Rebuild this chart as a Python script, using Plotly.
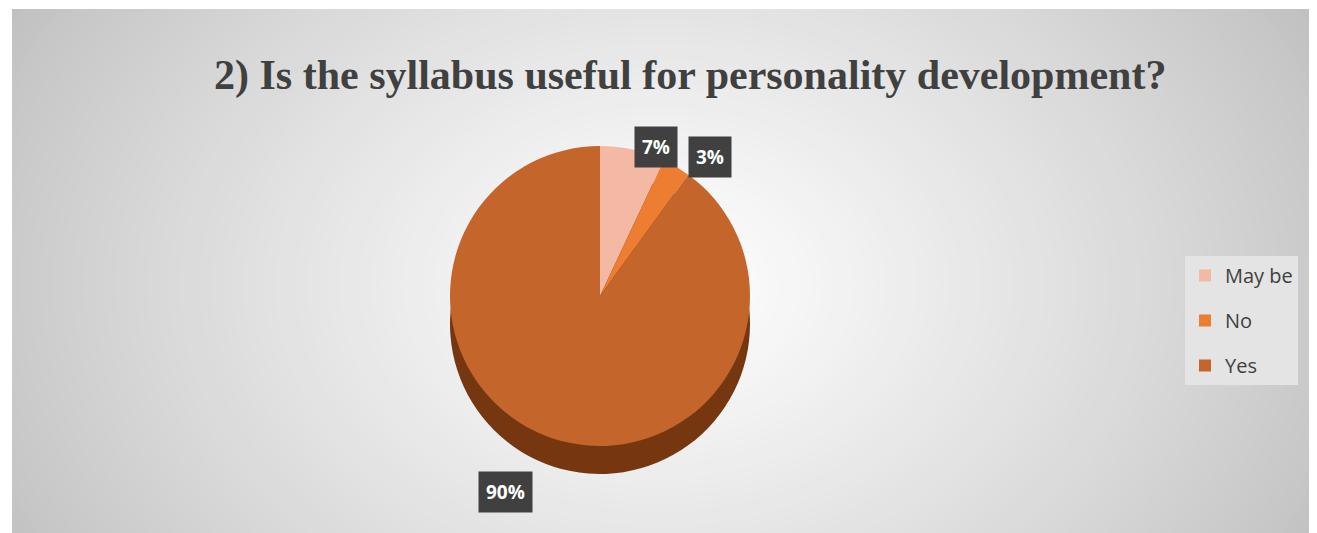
import plotly.graph_objects as go

categories = ["May be", "No", "Yes"]
values = [7, 3, 90]
colors = ["#F4B9A4", "#ED7D31", "#C4652B"]
side_color = "#763710"
title_text = "2) Is the syllabus useful for personality development?"

OFF = 8  # page body margin
W, H = 1317 - OFF, 533 - OFF


def px(x):
    return (x - OFF) / W


def py(y):
    return 1 - (y - OFF) / H


fig = go.Figure()

# background: radial grey gradient approximated with ellipses, then white frame
shapes = []
cx, cy = px(660), py(285)
N = 70
for i in range(N):
    t = i / (N - 1)
    rx = 0.56 * (1 - t) + 0.01
    ry = 1.05 * (1 - t) + 0.02
    g = int(round(0xC0 + (0xFF - 0xC0) * (t ** 0.85)))
    c = f"rgb({g},{g},{g})"
    shapes.append(dict(type="circle", xref="paper", yref="paper",
                       x0=cx - rx, x1=cx + rx, y0=cy - ry, y1=cy + ry,
                       fillcolor=c, line=dict(width=0), layer="below"))
# white frame strips (top and left)
shapes.append(dict(type="rect", xref="paper", yref="paper", x0=-1, x1=2, y0=py(9), y1=2,
                   fillcolor="white", line=dict(width=0), layer="below"))
shapes.append(dict(type="rect", xref="paper", yref="paper", x0=-1, x1=px(12), y0=-1, y1=2,
                   fillcolor="white", line=dict(width=0), layer="below"))

r = 150
pcx, pcy = 600, 296
depth = 28
dom_x = [px(pcx - r), px(pcx + r)]
dom_y = [py(pcy + r), py(pcy - r)]
dom_y_side = [py(pcy + r + depth), py(pcy - r + depth)]

# side (3D depth) pie
fig.add_trace(go.Pie(labels=categories, values=values, sort=False, direction="clockwise",
                     rotation=0, domain=dict(x=dom_x, y=dom_y_side),
                     marker=dict(colors=[side_color] * 3, line=dict(width=0)),
                     textinfo="none", hoverinfo="skip", showlegend=False))
# top pie
fig.add_trace(go.Pie(labels=categories, values=values, sort=False, direction="clockwise",
                     rotation=0, domain=dict(x=dom_x, y=dom_y),
                     marker=dict(colors=colors, line=dict(width=0)),
                     textinfo="none", showlegend=False))

# legend via dummy traces
for lab, col in zip(categories, colors):
    fig.add_trace(go.Scatter(x=[None], y=[None], mode="markers", name=lab, legendgroup=lab,
                             marker=dict(symbol="square", size=14, color=col)))

label_pos = [(656, 147), (710, 157), (505, 492)]
annotations = []
for v, (lx, ly) in zip(values, label_pos):
    annotations.append(dict(x=px(lx), y=py(ly), xref="paper", yref="paper",
                            xanchor="center", yanchor="middle",
                            text=f"<b>{v}%</b>", showarrow=False,
                            font=dict(family="Open Sans, Liberation Sans", size=19, color="white"),
                            bgcolor="#404040", borderpad=7))
annotations.append(dict(x=px(690), y=py(75), xref="paper", yref="paper",
                        xanchor="center", yanchor="middle",
                        text=f"<b>{title_text}</b>", showarrow=False,
                        font=dict(family="Liberation Serif, Times New Roman, serif", size=42, color="#404040")))

fig.update_layout(
    width=W, height=H,
    margin=dict(l=0, r=0, t=0, b=0),
    paper_bgcolor="#C0C0C0", plot_bgcolor="rgba(0,0,0,0)",
    shapes=shapes, annotations=annotations,
    xaxis=dict(visible=False), yaxis=dict(visible=False),
    legend=dict(x=px(1185), y=py(256), xanchor="left", yanchor="top",
                bgcolor="#E4E4E4", font=dict(family="Open Sans, Liberation Sans", size=20, color="#404040"),
                tracegroupgap=16, itemsizing="constant"),
)

fig.write_html("out.html")
